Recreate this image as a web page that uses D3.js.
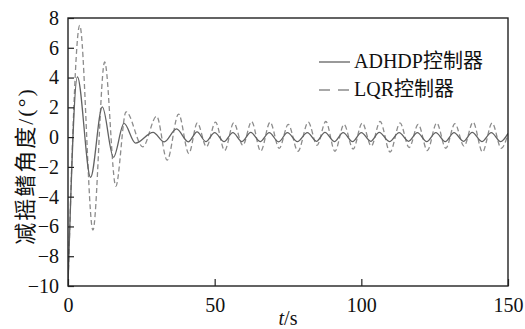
<!DOCTYPE html>
<html>
<head>
<meta charset="utf-8">
<script src="https://cdn.jsdelivr.net/npm/d3@7"></script>
<style>
  html, body { margin: 0; padding: 0; background: #fff; }
  svg text { font-family: "Liberation Serif", "Noto Sans CJK SC", serif; fill: #111; }
</style>
</head>
<body>
<div id="chart"></div>
<script>
// series: ADHDP controller (solid) - extrema
const adhdpT = [0, 3.2, 7.7, 11.7, 15.5, 19.1, 23.0, 29.0, 32.8, 37.0, 41.0, 44.0, 47.0,
  50.0, 53.2, 56.2, 59.3, 62.3, 65.5, 68.6, 71.8, 74.8, 78.2, 81.6, 84.7, 87.6, 90.8,
  93.8, 97.0, 100.0, 103.2, 106.1, 109.6, 112.9, 116.1, 119.1, 122.3, 125.4, 128.6,
  131.6, 134.8, 137.8, 141.1, 144.3, 147.5, 150];
const adhdpV = [-10, 4.05, -2.7, 2.03, -1.35, 0.92, -0.4, 0.32, -0.32, 0.55, -0.32, 0.35, -0.3,
  0.3, -0.3, 0.3, -0.3, 0.32, -0.3, 0.3, -0.32, 0.3, -0.3, 0.3, -0.28, 0.32, -0.3,
  0.3, -0.3, 0.3, -0.28, 0.32, -0.3, 0.3, -0.28, 0.3, -0.3, 0.3, -0.3,
  0.3, -0.28, 0.32, -0.3, 0.3, -0.3, 0.25];

// series: LQR controller (dashed)
const lqrT = [0, 4.0, 8.5, 12.5, 16.3, 19.8, 25.5, 30.2, 33.8, 37.7, 41.2, 44.1, 47.2,
  50.3, 53.4, 56.5, 59.6, 62.6, 65.7, 68.9, 72.0, 75.1, 78.4, 81.9, 84.9, 87.9, 91.0,
  94.1, 97.2, 100.3, 103.4, 106.4, 109.8, 113.2, 116.3, 119.4, 122.5, 125.7, 128.8,
  131.9, 135.0, 138.1, 141.3, 144.6, 147.7, 150];
const lqrV = [-10, 7.5, -6.25, 5.05, -3.3, 1.7, -0.65, 1.4, -1.55, 1.55, -1.1, 0.95, -0.65,
  1.0, -0.9, 0.95, -0.55, 1.05, -0.95, 1.0, -0.75, 0.85, -0.95, 1.0, -0.55, 1.05, -0.95,
  0.85, -0.8, 0.95, -0.6, 1.05, -1.0, 0.95, -0.7, 0.85, -0.9, 0.95, -0.75,
  0.9, -0.6, 1.0, -1.0, 0.95, -0.75, 0.2];

const xTicks = [0, 50, 100, 150];
const yTicks = [-10, -8, -6, -4, -2, 0, 2, 4, 6, 8];
const legendLabels = ["ADHDP控制器", "LQR控制器"];

const W = 525, H = 329;
const margin = { top: 18, right: 17, bottom: 43, left: 68 };
const width = W - margin.left - margin.right;
const height = H - margin.top - margin.bottom;

const svg = d3.select('#chart').append('svg')
  .attr('width', W).attr('height', H);

const g = svg.append('g')
  .attr('transform', `translate(${margin.left},${margin.top})`);

const x = d3.scaleLinear().domain([0, 150]).range([0, width]);
const y = d3.scaleLinear().domain([-10, 8]).range([height, 0]);

const fmt = d => (d < 0 ? '\u2212' + Math.abs(d) : String(d));

// clip to plot area
g.append('clipPath').attr('id', 'clip')
  .append('rect').attr('width', width).attr('height', height);

const line = d3.line()
  .curve(d3.curveMonotoneX)
  .x(d => x(d[0]))
  .y(d => y(d[1]));

const lqr = lqrT.map((t, i) => [t, lqrV[i]]);
const adhdp = adhdpT.map((t, i) => [t, adhdpV[i]]);

g.append('path')
  .datum(lqr)
  .attr('clip-path', 'url(#clip)')
  .attr('fill', 'none')
  .attr('stroke', '#8c8c8c')
  .attr('stroke-width', 1.3)
  .attr('stroke-dasharray', '5,3')
  .attr('d', line);

g.append('path')
  .datum(adhdp)
  .attr('clip-path', 'url(#clip)')
  .attr('fill', 'none')
  .attr('stroke', '#626262')
  .attr('stroke-width', 1.3)
  .attr('d', line);

// axes, ticks pointing inward
const xAxis = g.append('g')
  .attr('transform', `translate(0,${height})`)
  .call(d3.axisBottom(x).tickValues(xTicks).tickFormat(fmt).tickSizeInner(-7).tickSizeOuter(0).tickPadding(12));
xAxis.select('.domain').remove();
xAxis.selectAll('line').attr('stroke', '#222').attr('stroke-width', 1.2);
xAxis.selectAll('text').style('font-size', '20px').attr('fill', '#111');

const yAxis = g.append('g')
  .call(d3.axisLeft(y).tickValues(yTicks).tickFormat(fmt).tickSizeInner(-6).tickSizeOuter(0).tickPadding(9));
yAxis.select('.domain').remove();
yAxis.selectAll('line').attr('stroke', '#222').attr('stroke-width', 1.2);
yAxis.selectAll('text').style('font-size', '20px').attr('fill', '#111');

// frame
g.append('rect')
  .attr('width', width).attr('height', height)
  .attr('fill', 'none').attr('stroke', '#222').attr('stroke-width', 1.4);

// axis titles
const xt = svg.append('text')
  .attr('x', margin.left + width / 2)
  .attr('y', 325)
  .attr('text-anchor', 'middle')
  .style('font-size', '20px');
xt.append('tspan').style('font-style', 'italic').text('t');
xt.append('tspan').text('/s');

svg.append('text')
  .attr('transform', `translate(33,${166}) rotate(-90)`)
  .attr('text-anchor', 'middle')
  .style('font-size', '22px')
  .style('letter-spacing', '2px')
  .text('减摇鳍角度/(°)');

// legend
const leg = svg.append('g').attr('transform', 'translate(319,62)');
leg.append('line').attr('x1', 0).attr('x2', 31).attr('y1', 0).attr('y2', 0)
  .attr('stroke', '#626262').attr('stroke-width', 1.3);
leg.append('line').attr('x1', 0).attr('x2', 31).attr('y1', 28).attr('y2', 28)
  .attr('stroke', '#8c8c8c').attr('stroke-width', 1.3).attr('stroke-dasharray', '11,8');
legendLabels.forEach((s, i) => {
  leg.append('text')
    .attr('x', 35).attr('y', i * 28 + 6)
    .style('font-size', '20px')
    .text(s);
});
</script>
</body>
</html>
